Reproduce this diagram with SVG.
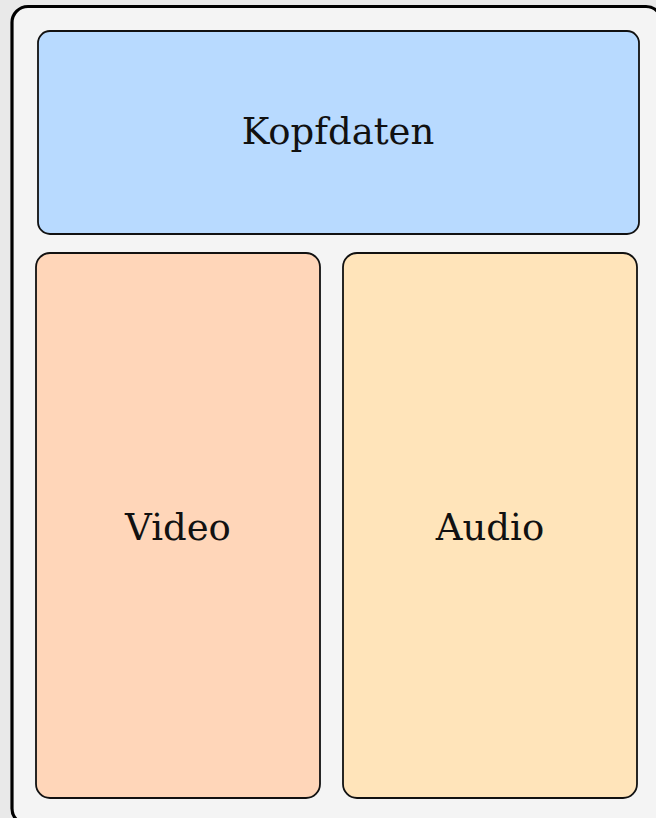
<svg xmlns="http://www.w3.org/2000/svg" width="656" height="818" viewBox="0 0 656 818">
<style>
.box{stroke:#111;stroke-width:1.8}
.lbl{font-family:"DejaVu Serif",serif;font-size:37px;fill:#111;text-anchor:middle}
</style>
<rect x="0" y="0" width="656" height="818" fill="#e9e9e9"/>
<g id="container">
<rect x="12" y="6.5" width="650" height="818" rx="16" fill="#f4f4f4" stroke="#000" stroke-width="3.2"/>
</g>
<g id="kopfdaten">
<rect class="box" x="38" y="31" width="601" height="203" rx="12" fill="#b8daff"/>
<text class="lbl" x="338" y="144">Kopfdaten</text>
</g>
<g id="video">
<rect class="box" x="36" y="253" width="284" height="545" rx="14" fill="#ffd6b9"/>
<text class="lbl" x="178" y="540">Video</text>
</g>
<g id="audio">
<rect class="box" x="343" y="253" width="294" height="545" rx="14" fill="#ffe4ba"/>
<text class="lbl" x="490" y="540">Audio</text>
</g>
<g id="connectors"></g>
</svg>
